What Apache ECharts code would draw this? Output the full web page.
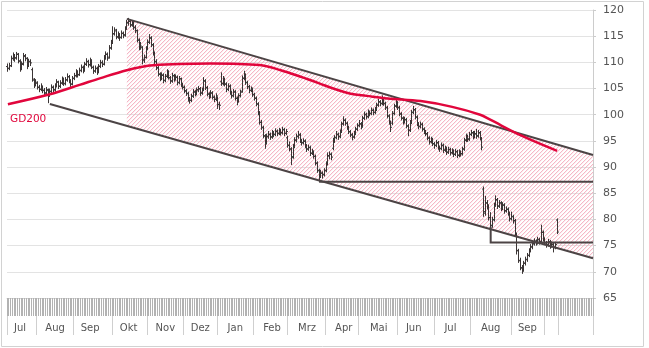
<!DOCTYPE html>
<html>
<head>
<meta charset="utf-8">
<script src="https://cdn.jsdelivr.net/npm/echarts@6/dist/echarts.min.js"></script>
<style>
  html, body { margin: 0; padding: 0; background: #ffffff; }
  #chart { width: 649px; height: 348px; }
</style>
</head>
<body>
<div id="chart"></div>
<script>
// Trading-day slots on the category axis; prices run to slot 314, the rest is open space.
const slotCount = 335;
const monthNames = ['Jul', 'Aug', 'Sep', 'Okt', 'Nov', 'Dez', 'Jan', 'Feb', 'Mrz', 'Apr', 'Mai', 'Jun', 'Jul', 'Aug', 'Sep'];
const monthLabelSlots = [7, 27, 47, 69, 90, 110, 130, 151, 171, 192, 212, 232, 253, 276, 297];
const monthStartSlots = [0, 17, 38, 60, 80, 101, 120, 141, 160, 182, 201, 223, 244, 265, 288, 307, 315];
const priceAxis = { min: 65, max: 120, step: 5 };

// Daily OHLC
const opens = [
  109.2,108.9,109.4,110.7,111.3,110.8,111.5,110.2,109.0,109.8,
  111.1,110.7,109.5,110.1,108.6,106.6,105.8,106.0,105.2,104.8,
  105.3,104.7,104.1,104.6,103.8,104.4,105.2,104.8,105.5,106.2,
  105.5,106.0,106.7,106.0,106.6,107.2,106.3,105.9,107.0,107.5,
  108.1,107.7,108.4,109.0,108.5,109.7,110.1,109.6,110.3,109.0,
  108.4,108.8,108.2,109.3,109.9,109.7,110.8,111.5,111.0,112.8,
  113.8,115.5,116.0,114.8,115.2,114.8,115.5,115.3,116.5,117.5,
  117.8,117.1,117.5,116.6,116.0,114.2,112.9,112.8,110.4,111.0,
  112.7,113.9,114.6,113.3,111.7,110.1,108.9,107.7,107.0,107.5,
  106.6,107.4,108.1,107.0,106.5,107.4,106.9,107.1,106.2,106.8,
  105.7,105.2,104.5,104.0,102.9,102.8,103.6,104.3,104.1,104.7,
  104.9,104.2,104.8,106.4,105.1,103.9,103.6,104.1,103.3,103.0,
  103.2,101.9,106.3,106.0,106.7,105.8,104.9,105.4,104.2,103.7,
  104.3,103.1,102.7,103.7,104.5,107.0,107.5,106.1,105.3,104.7,
  104.8,103.8,103.1,102.0,100.3,98.5,97.5,95.9,94.7,95.8,
  96.2,95.8,96.5,96.3,96.8,96.5,96.9,96.6,97.1,96.5,
  95.6,94.1,93.4,92.0,94.0,95.1,95.8,96.1,95.0,94.7,
  94.9,94.0,93.5,93.7,92.7,92.8,92.0,90.7,89.3,88.3,
  88.8,88.6,89.4,90.7,92.1,92.4,93.6,95.0,95.7,96.2,
  95.9,96.8,98.3,98.9,98.3,97.5,96.7,96.1,95.8,96.5,
  97.3,98.0,98.2,97.9,99.4,100.0,99.7,100.4,100.3,100.8,
  100.5,101.1,101.9,102.4,102.2,102.9,102.1,101.3,99.7,98.5,
  98.4,100.3,101.7,102.2,101.3,100.1,99.3,98.7,99.0,97.8,
  97.1,98.6,100.5,100.9,99.5,98.2,97.8,98.1,97.2,96.7,
  96.3,95.5,94.9,95.2,94.4,94.2,94.6,93.7,93.6,94.1,
  93.3,93.5,92.9,93.3,92.8,93.0,92.5,92.9,92.3,92.8,
  92.6,93.5,95.2,95.8,95.4,96.3,96.5,95.9,96.3,96.0,
  96.5,95.5,85.8,81.5,83.1,82.5,80.3,78.9,80.0,82.8,
  83.7,82.6,83.1,82.2,82.7,81.7,81.9,81.1,80.2,80.5,
  79.7,77.1,74.0,72.1,70.7,70.4,71.7,72.3,73.2,74.1,
  74.7,75.4,75.8,75.6,76.1,75.8,77.5,76.2,75.5,75.2,
  75.7,75.0,75.2,74.7,79.9
];
const highs = [
  109.7,109.8,111.2,111.8,111.5,111.9,111.7,110.5,110.1,111.7,
  111.5,110.9,110.6,110.5,108.9,106.9,106.7,106.3,105.6,105.9,
  105.5,105.0,105.2,104.9,104.9,105.7,105.5,105.9,106.7,106.4,
  106.5,107.2,107.0,107.1,107.8,107.5,106.7,107.3,107.9,108.6,
  108.4,108.9,109.5,109.3,110.0,110.7,110.4,110.8,110.5,109.3,
  109.3,109.1,109.6,110.4,110.3,111.3,112.0,111.8,113.2,114.2,
  116.8,116.6,116.3,115.8,115.5,116.0,115.8,116.8,118.0,118.4,
  118.1,118.0,117.8,117.0,116.2,114.5,113.8,113.0,111.4,113.0,
  114.3,115.3,114.9,113.6,112.0,110.5,109.2,108.0,108.0,107.8,
  107.7,108.6,108.4,107.3,107.9,107.7,107.6,107.4,107.3,107.0,
  106.0,105.5,104.8,104.3,103.3,103.9,104.8,104.6,105.1,105.4,
  105.2,105.1,107.1,106.7,105.4,104.2,104.6,104.4,103.6,104.0,
  103.4,102.4,108.0,107.3,107.0,106.1,105.9,105.7,104.5,104.8,
  104.6,103.4,104.0,104.7,107.4,108.3,107.8,106.4,105.6,105.3,
  105.1,104.1,103.4,102.3,100.6,98.9,97.8,96.2,96.3,96.8,
  96.5,97.0,96.8,97.3,97.1,97.4,97.2,97.6,97.4,97.2,
  95.9,94.8,93.7,94.3,95.6,96.3,96.8,96.4,95.3,95.4,
  95.2,94.3,94.2,94.0,93.4,93.1,92.3,91.0,89.6,89.4,
  89.1,89.7,91.0,92.7,92.9,92.7,95.5,96.0,96.8,96.5,
  97.1,98.6,99.6,99.2,98.6,97.8,97.0,96.4,96.8,97.6,
  98.3,98.9,98.5,99.7,100.5,100.3,100.9,100.7,101.3,101.1,
  101.4,102.2,102.9,102.7,103.6,103.2,102.4,101.6,100.0,98.8,
  100.6,102.0,102.9,102.5,101.6,100.4,99.6,99.5,99.3,98.1,
  98.9,100.8,101.6,101.2,99.8,98.5,98.6,98.4,97.5,97.0,
  96.6,95.8,95.7,95.5,94.7,95.1,94.9,94.0,94.6,94.4,
  94.0,93.8,93.8,93.6,93.5,93.3,93.4,93.2,93.3,93.1,
  93.8,95.5,96.3,96.1,96.6,97.0,96.8,96.8,97.2,97.0,
  96.8,95.6,86.2,84.4,83.6,82.8,81.3,80.4,83.1,84.5,
  84.0,83.6,83.4,83.2,83.0,82.4,82.2,81.4,81.4,80.8,
  80.0,77.4,74.3,72.6,71.2,72.0,72.8,73.5,74.4,75.2,
  75.7,76.3,76.1,76.6,76.4,78.9,77.8,76.5,75.8,76.2,
  76.0,75.7,75.5,75.6,80.1
];
const lows = [
  108.3,108.6,109.2,110.4,110.2,110.6,109.9,108.3,108.6,109.5,
  110.3,108.8,109.2,109.4,106.4,105.2,105.5,104.9,104.4,104.6,
  104.2,103.8,103.9,102.3,103.5,104.2,104.3,104.5,105.3,105.0,
  105.2,105.8,105.6,105.7,106.4,106.1,105.4,105.7,106.7,107.2,
  107.2,107.5,108.2,108.0,108.3,109.4,109.1,109.3,108.8,107.9,
  108.1,107.7,108.0,109.0,109.2,109.5,110.6,110.4,110.8,112.5,
  113.6,115.2,114.5,114.6,114.2,114.6,114.7,115.0,116.3,117.1,
  116.8,116.9,116.3,115.7,113.9,112.4,112.5,109.7,110.0,110.8,
  112.4,113.6,113.0,111.4,109.8,108.6,107.4,106.5,106.7,106.1,
  106.3,107.1,106.8,106.0,106.2,106.4,106.6,105.7,105.9,105.4,
  104.9,104.2,103.7,102.6,102.2,102.5,103.3,103.6,103.8,104.4,
  103.7,103.9,104.6,104.8,103.6,103.1,103.3,103.0,102.5,102.7,
  101.2,101.0,105.6,105.7,105.5,104.4,104.6,103.9,103.2,103.4,
  102.8,101.9,102.4,103.4,104.3,106.7,105.8,105.0,104.2,104.4,
  103.5,102.8,101.7,100.0,98.2,97.2,95.6,93.6,94.4,95.5,
  95.3,95.5,95.8,96.0,96.0,96.2,96.1,96.3,96.0,96.2,
  93.8,93.1,90.5,91.7,93.7,94.8,95.5,94.7,94.2,94.4,
  93.7,93.0,93.2,92.2,92.4,91.7,90.4,89.0,87.2,88.0,
  87.9,88.3,89.1,90.4,91.6,91.4,93.3,94.7,95.4,95.3,
  95.6,96.6,98.0,98.0,97.2,96.4,95.8,95.2,95.5,96.2,
  97.0,97.7,97.3,97.6,99.1,99.2,99.4,99.8,100.0,100.0,
  100.2,100.8,101.6,101.7,101.9,101.8,101.0,99.4,98.2,96.8,
  98.1,100.0,101.4,101.0,99.8,99.0,98.2,98.4,97.5,96.0,
  96.8,98.3,100.2,99.2,97.9,97.3,97.5,96.9,96.4,96.0,
  95.2,94.4,94.6,94.1,93.6,93.9,93.4,93.0,93.3,92.8,
  93.0,92.4,92.6,92.3,92.5,92.0,92.2,91.8,92.0,92.1,
  92.3,93.2,94.9,94.9,95.1,96.0,95.4,95.6,95.5,95.7,
  95.2,93.3,80.6,80.8,82.0,79.9,77.6,78.5,79.7,82.5,
  82.1,82.3,81.7,81.9,81.2,81.4,80.8,79.7,79.9,79.3,
  76.8,73.4,71.8,70.4,69.7,70.1,71.3,72.0,72.9,73.8,
  74.4,75.1,75.1,75.3,75.3,75.5,75.9,75.2,74.7,74.9,
  74.5,74.7,73.8,74.4,77.3
];
const closes = [
  108.8,109.3,110.8,111.2,110.9,111.6,110.3,108.9,109.6,111.3,
  110.8,109.4,110.2,109.9,106.8,105.7,106.2,105.3,104.9,105.4,
  104.6,104.2,104.8,103.9,104.5,105.3,104.7,105.6,106.3,105.4,
  106.1,106.8,105.9,106.7,107.3,106.4,105.8,106.9,107.4,108.2,
  107.6,108.5,109.1,108.4,109.6,110.2,109.5,110.4,109.1,108.3,
  108.9,108.1,109.2,110.0,109.6,110.9,111.6,110.8,112.7,113.6,
  115.4,116.2,114.9,115.3,114.7,115.6,115.1,116.4,117.6,117.9,
  117.2,117.6,116.7,116.1,114.3,112.8,113.1,110.6,110.9,112.6,
  113.8,114.7,113.4,111.8,110.2,109.0,107.8,106.9,107.6,106.5,
  107.3,108.2,107.1,106.4,107.5,106.8,107.2,106.1,106.9,105.8,
  105.3,104.6,104.1,103.0,102.7,103.5,104.4,104.0,104.8,105.0,
  104.1,104.7,106.5,105.2,104.0,103.5,104.2,103.4,102.9,103.6,
  102.0,101.8,105.9,106.8,105.9,104.8,105.5,104.3,103.6,104.4,
  103.2,102.6,103.6,104.3,106.9,107.6,106.2,105.4,104.6,104.9,
  103.9,103.2,102.1,100.4,98.6,97.6,96.0,94.6,95.9,96.3,
  95.7,96.6,96.2,96.9,96.4,97.0,96.5,97.2,96.4,96.8,
  94.2,93.5,91.8,93.9,95.2,95.9,96.2,95.1,94.6,95.0,
  94.1,93.4,93.8,92.6,92.9,92.1,90.8,89.4,88.2,88.9,
  88.5,89.3,90.6,92.2,92.5,91.9,95.1,95.6,96.3,95.8,
  96.7,98.2,99.0,98.4,97.6,96.8,96.2,95.7,96.4,97.2,
  97.9,98.3,97.8,99.3,100.1,99.6,100.5,100.2,100.9,100.4,
  101.0,101.8,102.5,102.1,103.0,102.2,101.4,99.8,98.6,97.6,
  100.2,101.6,102.3,101.4,100.2,99.4,98.6,99.1,97.9,97.0,
  98.5,100.4,101.0,99.6,98.3,97.7,98.2,97.3,96.8,96.4,
  95.6,94.8,95.3,94.5,94.1,94.7,93.8,93.5,94.2,93.2,
  93.6,92.8,93.4,92.7,93.1,92.4,93.0,92.2,92.9,92.5,
  93.4,95.1,95.9,95.3,96.2,96.6,95.8,96.4,95.9,96.6,
  95.6,93.8,81.2,83.2,82.6,80.4,78.8,79.9,82.7,83.8,
  82.5,83.2,82.1,82.8,81.6,82.0,81.2,80.1,80.6,79.8,
  77.2,74.1,72.2,70.8,70.3,71.6,72.4,73.1,74.0,74.8,
  75.3,75.9,75.5,76.2,75.7,77.6,76.3,75.6,75.1,75.8,
  74.9,75.3,74.6,75.2,77.6
];

// 200-day average, [slot, value]
const gd200 = [
  [0,102.0],[24,103.9],[41,105.7],[53,107.0],[68,108.5],[81,109.4],[98,109.7],
  [116,109.8],[144,109.5],[156,108.5],[167,107.3],[178,106.0],[186,105.0],
  [196,104.0],[205,103.6],[217,103.1],[236,102.6],[254,101.5],[270,100.0],
  [276,99.0],[293,96.1],[314,93.1]
];

// Channel and horizontal marks, [slot, value]; 'edge' runs to the right end of the plot
const upperTrend = [[68, 118.3], ['edge', 92.3]];
const lowerTrend = [[24, 102.05], ['edge', 72.6]];
const level87 = [[178, 87.2], ['edge', 87.2]];
const level756 = [[276, 78.6], [276, 75.6], ['edge', 75.6]];
const trendLines = [upperTrend, lowerTrend, level87, level756];

const slots = [];
for (let i = 0; i < slotCount; i++) slots.push(String(i));
const labelBySlot = {};
monthLabelSlots.forEach((s, k) => { labelBySlot[s] = monthNames[k]; });
const startSet = new Set(monthStartSlots);

const ohlc = closes.map((c, i) => [i, opens[i], highs[i], lows[i], c]);

const BAR = '#3b3535';
const LINE = '#4c4445';
const RED = '#e1063c';
const HATCH = '#f3a6b8';
const FONT = '"DejaVu Sans", Verdana, sans-serif';

function toPixel(api, cs, p) {
  const y = api.coord([0, p[1]])[1];
  const x = p[0] === 'edge' ? cs.x + cs.width : api.coord([p[0], p[1]])[0];
  return [x, y];
}

const chart = echarts.init(document.getElementById('chart'), null, { renderer: 'canvas' });

chart.setOption({
  animation: false,
  backgroundColor: '#ffffff',
  grid: { left: 7, right: 56, top: 10, bottom: 50 },
  xAxis: [
    {
      type: 'category', data: slots, boundaryGap: true,
      axisLine: { show: true, lineStyle: { color: '#d4d4d4' } },
      axisTick: { show: true, interval: 0, length: 18, lineStyle: { color: '#b2b2b2' } },
      axisLabel: { show: false },
      splitLine: { show: false }
    },
    {
      type: 'category', data: slots, boundaryGap: true, position: 'bottom', offset: 18,
      axisLine: { show: false },
      axisTick: { show: true, length: 19, interval: (idx) => startSet.has(idx), lineStyle: { color: '#cfcfcf' } },
      axisLabel: {
        show: true, margin: 7, interval: (idx) => labelBySlot[idx] !== undefined,
        formatter: (v, idx) => labelBySlot[idx] || '',
        color: '#555', fontFamily: FONT, fontSize: 10
      },
      splitLine: { show: false }
    }
  ],
  yAxis: {
    type: 'value', position: 'right',
    min: priceAxis.min, max: priceAxis.max, interval: priceAxis.step,
    axisLine: { show: true, lineStyle: { color: '#cccccc' } },
    axisTick: { show: true, length: 3, lineStyle: { color: '#cccccc' } },
    axisLabel: { margin: 10, color: '#555', fontFamily: FONT, fontSize: 11 },
    splitLine: { show: true, lineStyle: { color: '#e3e3e3' } }
  },
  series: [
    {
      // hatched channel between the two trend lines
      type: 'custom', z: 1, silent: true,
      data: [[0, 100]],
      encode: { x: 0, y: 1 },
      renderItem: (params, api) => {
        const cs = params.coordSys;
        const u0 = toPixel(api, cs, upperTrend[0]);
        const u1 = toPixel(api, cs, upperTrend[1]);
        const a = toPixel(api, cs, lowerTrend[0]);
        const b = toPixel(api, cs, lowerTrend[1]);
        const t = (u0[0] - a[0]) / (b[0] - a[0]);
        const l0 = [u0[0], a[1] + (b[1] - a[1]) * t];
        const xs = [u0[0], u1[0], b[0], l0[0]];
        const ys = [u0[1], u1[1], b[1], l0[1]];
        const x0 = Math.min.apply(null, xs), x1 = Math.max.apply(null, xs);
        const y0 = Math.min.apply(null, ys), y1 = Math.max.apply(null, ys);
        const span = y1 - y0;
        const strokes = [];
        for (let x = Math.floor(x0 - span); x <= x1; x += 4) {
          strokes.push({
            type: 'line',
            shape: { x1: x, y1: y1, x2: x + span, y2: y0 },
            style: { stroke: HATCH, lineWidth: 1 }
          });
        }
        return {
          type: 'group',
          clipPath: { type: 'polygon', shape: { points: [u0, u1, b, l0] } },
          children: strokes
        };
      }
    },
    {
      // OHLC bars
      type: 'custom', z: 3, silent: true,
      data: ohlc,
      encode: { x: 0, y: [1, 2, 3, 4] },
      renderItem: (params, api) => {
        const i = api.value(0);
        const o = api.coord([i, api.value(1)]);
        const h = api.coord([i, api.value(2)]);
        const l = api.coord([i, api.value(3)]);
        const c = api.coord([i, api.value(4)]);
        const x = Math.round(o[0] - 0.5) + 0.5;
        const st = { stroke: BAR, lineWidth: 1 };
        return {
          type: 'group',
          children: [
            { type: 'line', shape: { x1: x, y1: h[1] - 0.5, x2: x, y2: l[1] + 0.5 }, style: st },
            { type: 'line', shape: { x1: x - 1.5, y1: o[1], x2: x, y2: o[1] }, style: st },
            { type: 'line', shape: { x1: x, y1: c[1], x2: x + 1.5, y2: c[1] }, style: st }
          ]
        };
      }
    },
    {
      // channel lines and horizontal levels
      type: 'custom', z: 4, silent: true,
      data: trendLines.map((_, k) => [k, 100]),
      encode: { x: 0, y: 1 },
      renderItem: (params, api) => {
        const pts = trendLines[params.dataIndex].map(p => toPixel(api, params.coordSys, p));
        return {
          type: 'polyline',
          shape: { points: pts },
          style: { stroke: LINE, lineWidth: 2, fill: null, lineJoin: 'miter' }
        };
      }
    },
    {
      name: 'GD200', type: 'line', z: 5,
      data: gd200, smooth: 0.35, symbol: 'none', silent: true,
      lineStyle: { color: RED, width: 2.5 }
    }
  ],
  graphic: [
    {
      type: 'rect', silent: true, z: 0,
      shape: { x: 1.5, y: 1.5, width: 642, height: 345 },
      style: { fill: null, stroke: '#d2d2d2', lineWidth: 1 }
    },
    {
      type: 'text', silent: true, z: 10,
      x: 10, y: 119,
      style: { text: 'GD200', fill: RED, font: '10.5px ' + FONT, verticalAlign: 'middle' }
    }
  ]
});
</script>
</body>
</html>
